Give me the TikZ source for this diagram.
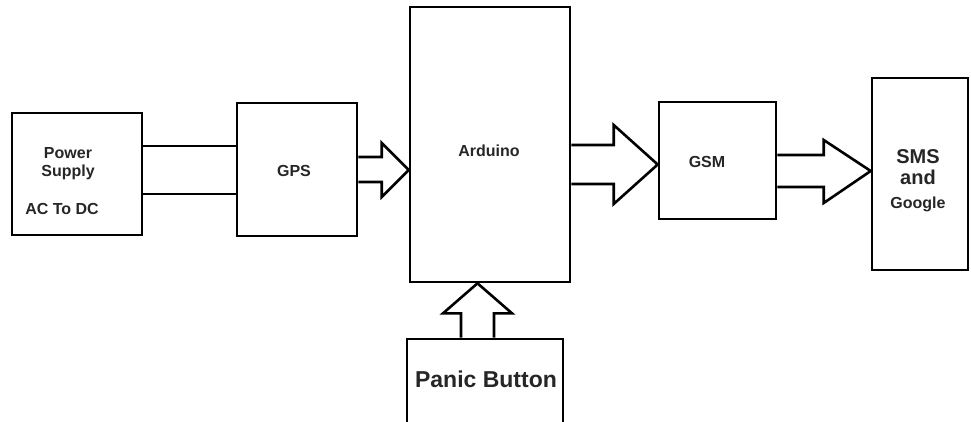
\documentclass[tikz,border=0pt]{standalone}
\usepackage{fontspec}
\setmainfont{Liberation Sans}
\usetikzlibrary{calc}
\begin{document}
\begin{tikzpicture}[x=1pt,y=-1pt,
  box/.style={draw=black,line width=2.6pt,rectangle,inner sep=0pt},
  ln/.style={draw=black,line width=2.6pt},
  blk/.style={draw=black,line width=2.6pt,line join=miter,fill=white},
  lbl/.style={text=black!85,inner sep=0pt,align=center,font=\bfseries\fontsize{16}{18}\selectfont}]
\useasboundingbox (0,0) rectangle (971,421);
\clip (0,0) rectangle (971,421);
% boxes
\node[box,minimum width=130pt,minimum height=122pt] (ps) at (77,174) {};
\node[box,minimum width=120pt,minimum height=133pt] (gps) at (297,169.5) {};
\node[box,minimum width=160pt,minimum height=275pt] (ard) at (490,144.5) {};
\node[box,minimum width=117pt,minimum height=117pt] (gsm) at (717.5,160.5) {};
\node[box,minimum width=96pt,minimum height=192pt] (sms) at (920,174) {};
\node[box,minimum width=156pt,minimum height=92pt] (panic) at (485,385) {};
% labels
\node[lbl] (pst) at (68,164) {Power\\Supply};
\node[lbl] (acdc) at (62,209) {AC To DC};
\node[lbl] (gpst) at (294,171) {GPS};
\node[lbl] (ardt) at (489,151) {Arduino};
\node[lbl] (gsmt) at (707,162) {GSM};
\node[lbl,font=\bfseries\fontsize{20}{21}\selectfont] (smst) at (918,167.5) {SMS\\and};
\node[lbl] (goot) at (918,204) {Google};
\node[lbl,font=\bfseries\fontsize{23}{26}\selectfont] (pant) at (486,379) {Panic Button};
% power supply to GPS
\draw[ln] (ps.east |- 0,146) -- (gps.west |- 0,146);
\draw[ln] (ps.east |- 0,194) -- (gps.west |- 0,194);
% GPS to Arduino
\draw[blk] (gps.east |- 0,157) -- ($(ard.west |- 0,157)+(-27,0)$) -- ($(ard.west |- 0,143)+(-27,0)$)
  -- (ard.west |- 0,170) -- ($(ard.west |- 0,197)+(-27,0)$) -- ($(ard.west |- 0,182)+(-27,0)$) -- (gps.east |- 0,182);
% Arduino to GSM
\draw[blk] (ard.east |- 0,145) -- ($(gsm.west |- 0,145)+(-44,0)$) -- ($(gsm.west |- 0,125)+(-44,0)$)
  -- (gsm.west |- 0,164.5) -- ($(gsm.west |- 0,204)+(-44,0)$) -- ($(gsm.west |- 0,184)+(-44,0)$) -- (ard.east |- 0,184);
% GSM to SMS
\draw[blk] (gsm.east |- 0,155) -- ($(sms.west |- 0,155)+(-47,0)$) -- ($(sms.west |- 0,140)+(-47,0)$)
  -- (sms.west |- 0,171) -- ($(sms.west |- 0,203)+(-47,0)$) -- ($(sms.west |- 0,187)+(-47,0)$) -- (gsm.east |- 0,187);
% Panic to Arduino
\draw[blk] (panic.north -| 461,0) -- ($(ard.south -| 461,0)+(0,30)$) -- ($(ard.south -| 443,0)+(0,30)$)
  -- (ard.south -| 477.5,0) -- ($(ard.south -| 512,0)+(0,30)$) -- ($(ard.south -| 494,0)+(0,30)$) -- (panic.north -| 494,0);
\end{tikzpicture}
\end{document}
